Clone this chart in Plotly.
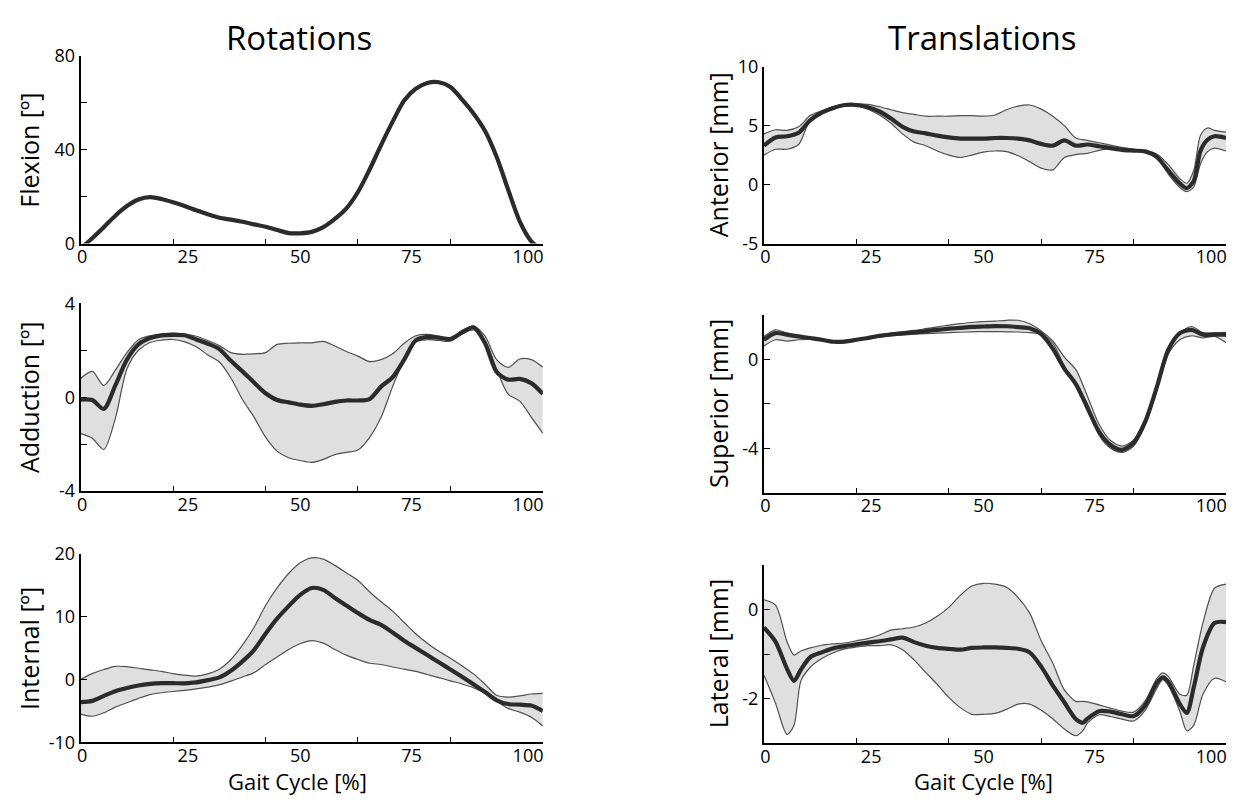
import plotly.graph_objects as go

# ---------------- data ----------------
GAIT = [0, 2.5, 5, 7.5, 10, 12.5, 15, 17.5, 20, 22.5, 25, 27.5, 30, 32.5, 35, 37.5, 40,
        42.5, 45, 47.5, 50, 52.5, 55, 57.5, 60, 62.5, 65, 67.5, 70, 72.5, 75, 77.5, 80,
        82.5, 85, 87.5, 90, 92.5, 95, 97.5, 100]

flexion_mean = [-2, 2.3, 7.0, 11.9, 16.0, 18.8, 19.8, 19.0, 17.6, 16.0, 14.2, 12.5, 11.0,
                10.2, 9.3, 8.2, 7.2, 5.8, 4.5, 4.4, 5.0, 7.0, 10.5, 15.0, 22.0, 31.5, 42.0,
                52.0, 61.0, 66.0, 68.5, 68.8, 66.8, 61.5, 55.5, 48.0, 37.0, 23.0, 9.5, 1.0, -3]

adduction_mean = [-0.1, -0.12, -0.5, 0.5, 1.6, 2.25, 2.52, 2.63, 2.66, 2.64, 2.46, 2.28, 2.05,
                  1.55, 1.1, 0.63, 0.17, -0.12, -0.22, -0.32, -0.37, -0.3, -0.2, -0.14, -0.14,
                  -0.08, 0.45, 0.85, 1.6, 2.42, 2.57, 2.54, 2.48, 2.75, 2.98, 2.3, 1.08, 0.75,
                  0.78, 0.6, 0.14]
adduction_upper = [0.8, 1.1, 0.5, 1.15, 1.9, 2.45, 2.62, 2.7, 2.73, 2.68, 2.6, 2.42, 2.2, 1.9,
                   1.83, 1.85, 1.9, 2.25, 2.3, 2.32, 2.32, 2.38, 2.18, 1.95, 1.75, 1.52, 1.6,
                   1.85, 2.3, 2.62, 2.68, 2.6, 2.5, 2.85, 3.03, 2.6, 1.6, 1.27, 1.63, 1.6, 1.28]
adduction_lower = [-1.54, -1.75, -2.23, -0.9, 1.2, 2.0, 2.33, 2.43, 2.46, 2.36, 2.15, 1.8, 1.5,
                   0.82, -0.1, -0.85, -1.7, -2.3, -2.58, -2.7, -2.78, -2.65, -2.45, -2.35, -2.25,
                   -1.72, -0.86, 0.45, 1.6, 2.36, 2.45, 2.42, 2.39, 2.7, 2.87, 2.4, 1.2, 0.13,
                   -0.17, -0.85, -1.54]

internal_mean = [-3.6, -3.4, -2.6, -1.85, -1.35, -0.95, -0.7, -0.58, -0.58, -0.6, -0.45, -0.1,
                 0.35, 1.4, 2.9, 4.7, 7.3, 9.7, 11.7, 13.5, 14.6, 14.3, 13.0, 11.8, 10.6, 9.5,
                 8.7, 7.5, 6.2, 5.05, 3.9, 2.75, 1.6, 0.45, -0.75, -2.0, -3.3, -3.9, -4.0,
                 -4.15, -5.0]
internal_upper = [0.05, 0.95, 1.6, 2.1, 2.05, 1.8, 1.55, 1.3, 0.95, 0.7, 0.55, 0.9, 1.65, 3.2,
                  5.5, 8.3, 11.8, 14.6, 16.9, 18.6, 19.4, 19.2, 18.2, 17.0, 15.8, 14.0, 12.4,
                  10.9, 9.1, 7.3, 5.8, 4.5, 3.4, 2.2, 0.9, -0.75, -2.5, -2.8, -2.6, -2.3, -2.2]
internal_lower = [-5.5, -5.85, -5.3, -4.4, -3.7, -3.0, -2.4, -2.1, -1.9, -1.72, -1.5, -1.2,
                  -0.85, -0.25, 0.4, 1.1, 2.4, 3.6, 4.8, 5.7, 6.2, 5.8, 4.8, 3.9, 3.2, 2.6, 2.4,
                  2.0, 1.65, 1.3, 0.8, 0.3, -0.2, -0.7, -1.3, -2.2, -3.4, -4.6, -5.2, -6.0, -7.4]

GAIT_ANT = [0, 2.5, 5, 7.5, 10, 12.5, 15, 17.5, 20, 22.5, 25, 27.5, 30, 32.5, 35, 37.5, 40,
            42.5, 45, 47.5, 50, 52.5, 55, 57.5, 60, 62.5, 65, 67.5, 70, 72.5, 75, 77.5, 80,
            82.5, 85, 87.5, 90, 91.5, 93, 94.5, 96, 97.5, 100]
anterior_mean = [3.3, 4.0, 4.1, 4.4, 5.45, 6.1, 6.5, 6.75, 6.75, 6.55, 6.2, 5.6, 4.9, 4.5,
                 4.35, 4.15, 4.0, 3.9, 3.9, 3.9, 3.95, 3.95, 3.9, 3.75, 3.45, 3.3, 3.75, 3.3,
                 3.4, 3.25, 3.1, 2.95, 2.88, 2.82, 2.35, 1.2, 0.1, -0.3, 0.3, 2.9, 3.8, 4.1, 3.95]
anterior_upper = [4.3, 4.65, 4.6, 4.9, 5.85, 6.25, 6.6, 6.8, 6.85, 6.8, 6.6, 6.35, 6.1, 5.95,
                  5.8, 5.8, 5.8, 5.85, 5.85, 5.8, 5.9, 6.35, 6.65, 6.75, 6.4, 5.8, 5.0, 3.95,
                  3.75, 3.55, 3.35, 3.15, 3.0, 2.85, 2.6, 1.7, 0.5, 0.12, 1.2, 4.2, 4.8, 4.6, 4.45]
anterior_lower = [2.5, 3.0, 3.0, 3.4, 5.45, 6.0, 6.4, 6.65, 6.7, 6.4, 5.9, 5.2, 4.3, 3.6, 3.3,
                  2.85, 2.5, 2.3, 2.5, 2.75, 2.85, 2.8, 2.45, 1.95, 1.4, 1.25, 2.3, 2.55, 2.65,
                  2.9, 3.05, 2.95, 2.85, 2.75, 2.3, 0.9, -0.25, -0.6, -0.2, 1.8, 2.8, 3.1, 2.85]

superior_mean = [0.9, 1.2, 1.13, 1.05, 0.98, 0.9, 0.81, 0.82, 0.9, 0.98, 1.08, 1.14, 1.19, 1.23,
                 1.29, 1.35, 1.4, 1.44, 1.48, 1.5, 1.52, 1.51, 1.47, 1.42, 1.15, 0.5, -0.4,
                 -1.1, -2.17, -3.25, -3.85, -4.07, -3.75, -2.8, -1.25, 0.45, 1.2, 1.35, 1.13,
                 1.13, 1.13]
superior_upper = [1.05, 1.35, 1.2, 1.08, 1.01, 0.93, 0.84, 0.85, 0.93, 1.01, 1.12, 1.19, 1.26,
                  1.32, 1.4, 1.48, 1.56, 1.63, 1.68, 1.72, 1.74, 1.78, 1.78, 1.62, 1.3, 0.85,
                  0.12, -0.45, -1.65, -2.9, -3.65, -3.9, -3.63, -2.7, -1.2, 0.35, 1.2, 1.5,
                  1.22, 1.22, 1.23]
superior_lower = [0.62, 0.9, 0.84, 0.9, 0.92, 0.86, 0.78, 0.78, 0.86, 0.94, 1.02, 1.08, 1.12,
                  1.15, 1.18, 1.2, 1.22, 1.24, 1.26, 1.27, 1.27, 1.26, 1.25, 1.22, 1.15, 0.75,
                  -0.3, -1.2, -2.0, -3.4, -4.0, -4.19, -3.9, -2.95, -1.4, 0.25, 0.9, 1.08, 0.98,
                  1.05, 0.76]

GAIT_LAT = [0, 2.5, 5, 6.5, 8, 10, 12.5, 15, 17.5, 20, 22.5, 25, 27.5, 30, 32.5, 35, 37.5, 40,
            42.5, 45, 47.5, 50, 52.5, 55, 57.5, 60, 62.5, 65, 67.5, 69, 70, 72.5, 75, 77.5, 80,
            82.5, 85, 86.3, 87.5, 90, 91.5, 93, 95, 97.5, 100]
lateral_mean = [-0.4, -0.72, -1.33, -1.6, -1.35, -1.07, -0.96, -0.87, -0.82, -0.78, -0.74,
                -0.71, -0.67, -0.63, -0.73, -0.81, -0.86, -0.88, -0.9, -0.86, -0.85, -0.85,
                -0.86, -0.88, -0.96, -1.28, -1.7, -2.08, -2.46, -2.54, -2.45, -2.28, -2.29,
                -2.35, -2.39, -2.15, -1.65, -1.52, -1.62, -2.12, -2.32, -1.75, -0.85, -0.3, -0.28]
lateral_upper = [0.22, 0.1, -0.72, -1.02, -0.93, -0.86, -0.8, -0.77, -0.75, -0.7, -0.65, -0.57,
                 -0.46, -0.43, -0.39, -0.3, -0.15, 0.05, 0.32, 0.53, 0.59, 0.57, 0.5, 0.27,
                 -0.08, -0.7, -1.2, -1.8, -2.06, -2.06, -2.07, -2.14, -2.21, -2.28, -2.3, -2.05,
                 -1.55, -1.42, -1.5, -1.9, -1.92, -1.25, -0.3, 0.48, 0.57]
lateral_lower = [-1.47, -2.1, -2.8, -2.6, -1.6, -1.3, -1.1, -0.97, -0.88, -0.84, -0.81, -0.81,
                 -0.79, -0.9, -1.13, -1.41, -1.68, -1.97, -2.2, -2.35, -2.35, -2.33, -2.24,
                 -2.12, -2.12, -2.26, -2.45, -2.68, -2.83, -2.72, -2.55, -2.36, -2.4, -2.46,
                 -2.5, -2.26, -1.77, -1.57, -1.7, -2.28, -2.72, -2.6, -1.9, -1.54, -1.62]

X_TICK_LABELS = ["0", "25", "50", "75", "100"]
COLUMN_TITLES = ["Rotations", "Translations"]
Y_TITLES = ["Flexion [º]", "Adduction [º]", "Internal [º]",
            "Anterior [mm]", "Superior [mm]", "Lateral [mm]"]
X_TITLE = "Gait Cycle [%]"

# ---------------- style / layout ----------------
W, H = 1240, 805
FONT = "Open Sans"
MEAN_COLOR = "#2b2b2b"
EDGE_COLOR = "#505050"
FILL_COLOR = "#dfdfdf"

X_LABEL_POS = [0.3, 23.2, 47.5, 71.6, 96.8]
X_MINOR = [20, 40, 60, 80]

# pixel boxes: (left, right, top, bottom)
BOXES = [
    (77, 541, 44.3, 237.7),
    (77, 541, 299.3, 492.7),
    (77, 541, 557.7, 751.7),
    (763, 1227, 55.3, 237.7),
    (763, 1227, 311.7, 494.3),
    (763, 1227, 569.0, 752.7),
]
Y_RANGES = [(0, 80), (-4, 4), (-10, 20), (-5, 10), (-6, 2), (-3, 1)]
Y_TICKS = [([0, 20, 40, 60, 80], ["0", "", "40", "", "80"]),
           ([-4, -2, 0, 2, 4], ["-4", "", "0", "", "4"]),
           ([-10, 0, 10, 20], ["-10", "0", "10", "20"]),
           ([-5, 0, 5, 10], ["-5", "0", "5", "10"]),
           ([-6, -4, -2, 0, 2], ["", "-4", "", "0", ""]),
           ([-3, -2, -1, 0, 1], ["", "-2", "", "0", ""])]

SERIES = [
    (GAIT, flexion_mean, None, None),
    (GAIT, adduction_mean, adduction_upper, adduction_lower),
    (GAIT, internal_mean, internal_upper, internal_lower),
    (GAIT_ANT, anterior_mean, anterior_upper, anterior_lower),
    (GAIT, superior_mean, superior_upper, superior_lower),
    (GAIT_LAT, lateral_mean, lateral_upper, lateral_lower),
]

fig = go.Figure()
layout_axes = {}
SM = 0.8
TICK_SIZE = 18

for i, ((x, mean, up, lo), box, yr, (tv, tt)) in enumerate(zip(SERIES, BOXES, Y_RANGES, Y_TICKS)):
    n = i + 1
    xa = "x" if n == 1 else f"x{n}"
    ya = "y" if n == 1 else f"y{n}"
    if up is not None:
        fig.add_trace(go.Scatter(x=x, y=lo, xaxis=xa, yaxis=ya, mode="lines",
                                 line=dict(color=EDGE_COLOR, width=1.2, shape="spline", smoothing=SM),
                                 hoverinfo="skip"))
        fig.add_trace(go.Scatter(x=x, y=up, xaxis=xa, yaxis=ya, mode="lines", fill="tonexty",
                                 fillcolor=FILL_COLOR,
                                 line=dict(color=EDGE_COLOR, width=1.2, shape="spline", smoothing=SM),
                                 hoverinfo="skip"))
    fig.add_trace(go.Scatter(x=x, y=mean, xaxis=xa, yaxis=ya, mode="lines",
                             line=dict(color=MEAN_COLOR, width=4.2, shape="spline", smoothing=SM)))

    l, r, t, b = box
    xkey = "xaxis" if n == 1 else f"xaxis{n}"
    ykey = "yaxis" if n == 1 else f"yaxis{n}"
    layout_axes[xkey] = dict(
        domain=[l / W, r / W], anchor=ya, range=[0, 100],
        showline=True, linecolor="black", linewidth=2, mirror=False,
        showgrid=False, zeroline=False,
        tickmode="array", tickvals=X_LABEL_POS, ticktext=X_TICK_LABELS, ticks="",
        ticklabelstandoff=-4,
        tickfont=dict(family=FONT, size=TICK_SIZE, color="black"),
        minor=dict(tickmode="array", tickvals=X_MINOR, ticks="inside", ticklen=5,
                   tickwidth=1.2, tickcolor="black", showgrid=False),
    )
    layout_axes[ykey] = dict(
        domain=[1 - b / H, 1 - t / H], anchor=xa, range=list(yr),
        showline=True, linecolor="black", linewidth=2, mirror=False,
        showgrid=False, zeroline=False,
        tickmode="array", tickvals=tv, ticktext=tt, ticks="inside", ticklen=6,
        tickwidth=1.2, tickcolor="black",
        tickfont=dict(family=FONT, size=TICK_SIZE, color="black"),
    )

annotations = []
# column titles
for txt, cx in zip(COLUMN_TITLES, [296, 982]):
    annotations.append(dict(text=txt, x=cx / W, y=1 - 25 / H, xref="paper", yref="paper",
                            showarrow=False, xanchor="center", yanchor="middle",
                            font=dict(family=FONT, size=33, color="black")))
# y titles
for txt, box, i in zip(Y_TITLES, BOXES, range(6)):
    l, r, t, b = box
    cx = 25 if i < 3 else 717
    annotations.append(dict(text=txt, x=cx / W, y=1 - ((t + b) / 2) / H, xref="paper",
                            yref="paper", showarrow=False, textangle=-90,
                            xanchor="center", yanchor="middle",
                            font=dict(family=FONT, size=25, color="black")))
# x titles
for cx in [295, 983]:
    annotations.append(dict(text=X_TITLE, x=cx / W, y=1 - 792 / H, xref="paper", yref="paper",
                            showarrow=False, xanchor="center", yanchor="middle",
                            font=dict(family=FONT, size=22, color="black")))

fig.update_layout(
    width=W, height=H, margin=dict(l=0, r=0, t=0, b=0),
    paper_bgcolor="white", plot_bgcolor="white", showlegend=False,
    font=dict(family=FONT, color="black"),
    annotations=annotations,
    **layout_axes,
)

fig.write_html("out.html", config={"displayModeBar": False},
               post_script="document.body.style.margin='0';document.body.style.overflow='hidden';")
